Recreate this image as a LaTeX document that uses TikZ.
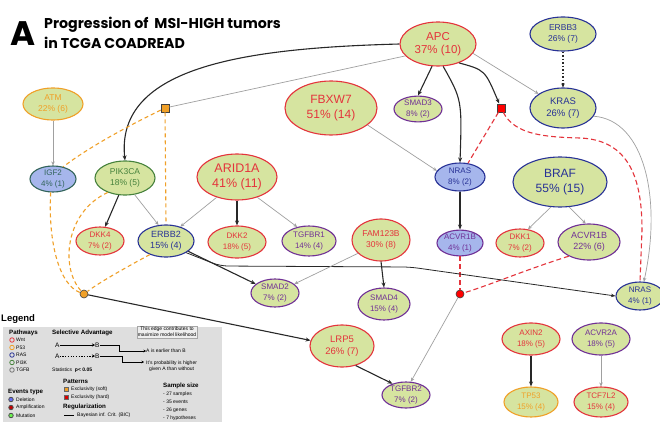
\documentclass[tikz,border=0pt]{standalone}
\usepackage{fontspec}
\setmainfont{Liberation Sans}
\newfontfamily\titlefont{Poppins}
\usetikzlibrary{shapes.geometric,arrows.meta}

\definecolor{gfill}{RGB}{214,228,160}
\definecolor{bfill}{RGB}{166,182,236}
\definecolor{cred}{RGB}{228,52,60}
\definecolor{cblue}{RGB}{40,50,150}
\definecolor{cpurp}{RGB}{112,48,150}
\definecolor{corange}{RGB}{240,160,40}
\definecolor{cgreen}{RGB}{70,130,60}
\definecolor{cteal}{RGB}{50,100,90}
\definecolor{egray}{RGB}{160,160,160}
\definecolor{eblack}{RGB}{40,40,40}
\definecolor{legbg}{RGB}{222,222,222}

\begin{document}
\begin{tikzpicture}[x=1pt,y=-1pt,
 gene/.style={ellipse, draw, line width=1.1pt, inner sep=0pt, align=center, font=\fontsize{8}{11}\selectfont},
 gf/.style={fill=gfill}, bf/.style={fill=bfill},
 rd/.style={draw=cred, text=cred}, bl/.style={draw=cblue, text=cblue},
 pu/.style={draw=cpurp, text=cpurp}, orn/.style={draw=corange, text=corange},
 gr/.style={draw=cgreen, text=cgreen},
 sz/.style 2 args={minimum width=#1pt, minimum height=#2pt},
 patsq/.style={rectangle, draw=black!75, line width=0.6pt, minimum size=8pt, inner sep=0pt},
 patci/.style={circle, draw=black!75, line width=0.6pt, minimum size=8pt, inner sep=0pt},
 ga/.style={draw=egray, line width=0.7pt, -{Stealth[length=4pt,width=3.5pt]}},
 gl/.style={draw=egray, line width=0.7pt},
 bk/.style={draw=eblack, line width=1.1pt, -{Stealth[length=5pt,width=4pt]}},
 bkthin/.style={draw=eblack, line width=0.8pt, -{Stealth[length=4.5pt,width=3.5pt]}},
 dotar/.style={draw=eblack, line width=1.2pt, dash pattern=on 1.5pt off 2pt, -{Stealth[length=4pt,width=3.5pt]}},
 rdash/.style={draw=cred, line width=1.1pt, dash pattern=on 5pt off 3pt},
 odash/.style={draw=corange, line width=1.1pt, dash pattern=on 4pt off 3pt},
 lt/.style={anchor=west, inner sep=0pt, font=\fontsize{5}{6}\selectfont},
 lb/.style={anchor=west, inner sep=0pt, font=\bfseries\fontsize{6.2}{7}\selectfont},
 legc/.style={circle, minimum size=4.5pt, inner sep=0pt, line width=0.8pt},
 legs/.style={rectangle, minimum size=4.5pt, inner sep=0pt, line width=0.5pt, draw=black!60}
]
\fill[white] (0,0) rectangle (660,422);
\useasboundingbox (0,0) rectangle (660,422);

% title
\node[anchor=west, inner sep=0pt, font=\titlefont\bfseries\fontsize{34}{34}\selectfont] (tA) at (10,34) {A};
\node[anchor=north west, inner sep=0pt, align=left, font=\titlefont\bfseries\fontsize{14.2}{19.5}\selectfont] (title) at (44,17) {Progression of \ MSI-HIGH tumors\\in TCGA COADREAD};

% genes
\node[gene,gf,rd,sz={76}{44},font=\fontsize{11.5}{13.5}\selectfont] (APC) at (438,44) {APC\\37\% (10)};
\node[gene,gf,bl,sz={66}{34},font=\fontsize{8.5}{11.5}\selectfont] (ERBB3) at (563,34) {ERBB3\\26\% (7)};
\node[gene,gf,pu,sz={48}{25}] (SMAD3) at (418,109) {SMAD3\\8\% (2)};
\node[gene,gf,bl,sz={66}{40},font=\fontsize{9.5}{12}\selectfont] (KRAS) at (563,108) {KRAS\\26\% (7)};
\node[gene,gf,rd,sz={92}{54},font=\fontsize{12}{15}\selectfont] (FBXW7) at (331,108) {FBXW7\\51\% (14)};
\node[gene,gf,orn,sz={60}{32},font=\fontsize{8.5}{11}\selectfont] (ATM) at (53,104) {ATM\\22\% (6)};
\node[gene,bf,draw=cteal,text=cteal,sz={46}{26}] (IGF2) at (53,179) {IGF2\\4\% (1)};
\node[gene,gf,gr,sz={60}{34},font=\fontsize{8.5}{11}\selectfont] (PIK3CA) at (125,178) {PIK3CA\\18\% (5)};
\node[gene,gf,rd,sz={80}{46},font=\fontsize{12.5}{15}\selectfont] (ARID1A) at (237,177) {ARID1A\\41\% (11)};
\node[gene,gf,rd,sz={48}{28}] (DKK4) at (100,241) {DKK4\\7\% (2)};
\node[gene,gf,bl,sz={56}{32},font=\fontsize{9}{11.5}\selectfont] (ERBB2) at (166,241) {ERBB2\\15\% (4)};
\node[gene,gf,rd,sz={58}{32}] (DKK2) at (237,242) {DKK2\\18\% (5)};
\node[gene,gf,pu,sz={54}{30}] (TGFBR1) at (309,241) {TGFBR1\\14\% (4)};
\node[gene,gf,rd,sz={58}{42},font=\fontsize{8.5}{11.5}\selectfont] (FAM) at (381,240) {FAM123B\\30\% (8)};
\node[gene,gf,pu,sz={48}{28}] (SMAD2) at (275,293) {SMAD2\\7\% (2)};
\node[gene,gf,pu,sz={52}{32}] (SMAD4) at (384,304) {SMAD4\\15\% (4)};
\node[gene,bf,bl,sz={50}{28}] (NRAS) at (460,177) {NRAS\\8\% (2)};
\node[gene,gf,bl,sz={94}{50},font=\fontsize{12}{15}\selectfont] (BRAF) at (560,182) {BRAF\\55\% (15)};
\node[gene,bf,pu,sz={46}{24}] (ACVs) at (460,243) {ACVR1B\\4\% (1)};
\node[gene,gf,rd,sz={48}{28}] (DKK1) at (520,243) {DKK1\\7\% (2)};
\node[gene,gf,pu,sz={62}{36},font=\fontsize{9}{11.5}\selectfont] (ACVb) at (589,242) {ACVR1B\\22\% (6)};
\node[gene,gf,bl,sz={48}{28}] (NRAS2) at (640,296) {NRAS\\4\% (1)};
\node[gene,gf,rd,sz={64}{42},font=\fontsize{9.5}{12}\selectfont] (LRP5) at (342,346) {LRP5\\26\% (7)};
\node[gene,gf,pu,sz={48}{26}] (TGFBR2) at (406,395) {TGFBR2\\7\% (2)};
\node[gene,gf,rd,sz={58}{32}] (AXIN2) at (531,339) {AXIN2\\18\% (5)};
\node[gene,gf,pu,sz={58}{32}] (ACVR2A) at (601,339) {ACVR2A\\18\% (5)};
\node[gene,gf,orn,sz={54}{30}] (TP53) at (531,402) {TP53\\15\% (4)};
\node[gene,gf,rd,sz={54}{30}] (TCF7L2) at (601,402) {TCF7L2\\15\% (4)};

% pattern nodes
\node[patsq,fill=corange] (psqO) at (165,108) {};
\node[patsq,fill=red] (psqR) at (501,108) {};
\node[patci,fill=corange] (pciO) at (84,294) {};
\node[patci,fill=red] (pciR) at (460,294) {};

% edges
\draw[bk] (APC.west) .. controls (250,48) and (115,65) .. (PIK3CA.north);
\draw[gl] (APC.200) -- (psqO);
\draw[bk] (APC.255) -- (SMAD3.north);
\draw[bk] (APC.283) .. controls (462,100) .. (NRAS.north);
\draw[bk] (APC.318) .. controls (485,70) .. (psqR);
\draw[ga] (APC.345) -- (KRAS.150);
\draw[dotar] (ERBB3.south) -- (KRAS.north);
\draw[ga] (KRAS.345) .. controls (645,120) and (662,200) .. (NRAS2.75);
\draw[rdash] (psqR) -- (NRAS.60);
\draw[rdash] (psqR) .. controls (515,135) and (545,137) .. (580,138) .. controls (630,140) and (642,180) .. (642,230) -- (NRAS2.north);
\draw[ga] (FBXW7.335) -- (NRAS.165);
\draw[bk] (NRAS.south) -- (ACVs.north);
\draw[ga] (BRAF.250) -- (DKK1.60);
\draw[ga] (BRAF.290) -- (ACVb.100);
\draw[rdash] (ACVs.south) -- (pciR);
\draw[rdash] (ACVb.215) .. controls (525,270) and (490,285) .. (pciR);
\draw[ga] (pciR) -- (TGFBR2.70);
\draw[bkthin, rounded corners=8pt] (ERBB2.330) -- (220,266) -- (410,267) -- (NRAS2.west);
\draw[bk] (ERBB2.335) -- (SMAD2.155);
\draw[ga] (FAM.210) -- (SMAD2.25);
\draw[bk] (FAM.south) -- (SMAD4.north);
\draw[ga] (ARID1A.225) -- (ERBB2.45);
\draw[bk] (ARID1A.south) -- (DKK2.north);
\draw[ga] (ARID1A.315) -- (TGFBR1.130);
\draw[bk] (PIK3CA.250) -- (DKK4.70);
\draw[ga] (PIK3CA.300) -- (ERBB2.115);
\draw[ga] (ATM.south) -- (IGF2.north);
\draw[odash] (psqO) .. controls (120,130) and (85,150) .. (IGF2.50);
\draw[odash] (psqO) -- (ERBB2.north);
\draw[odash] (IGF2.260) .. controls (48,245) and (60,285) .. (pciO);
\draw[odash] (PIK3CA.220) .. controls (65,212) and (60,268) .. (pciO);
\draw[odash] (ERBB2.220) .. controls (125,268) and (100,282) .. (pciO);
\draw[bk] (pciO) -- (LRP5.170);
\draw[bk] (LRP5.305) -- (TGFBR2.140);
\draw[bk] (AXIN2.south) -- (TP53.north);
\draw[ga] (ACVR2A.south) -- (TCF7L2.north);

% legend
\fill[legbg] (3,327) rectangle (222,422);
\node[anchor=west, inner sep=0pt, font=\bfseries\fontsize{9.5}{10}\selectfont] (legT) at (1,319) {Legend};
\node[lb] (lpw) at (9,333) {Pathways};
\node[legc,draw=cred] (c1) at (12,340) {}; \node[lt] at (16,340) {Wnt};
\node[legc,draw=corange] (c2) at (12,347.5) {}; \node[lt] at (16,347.5) {P53};
\node[legc,draw=cblue] (c3) at (12,355) {}; \node[lt] at (16,355) {RAS};
\node[legc,draw=cgreen] (c4) at (12,362.5) {}; \node[lt] at (16,362.5) {PI3K};
\node[legc,draw=black!55] (c5) at (12,370) {}; \node[lt] at (16,370) {TGFB};

\node[lb] (lsa) at (52,333) {Selective Advantage};
\node[lt,font=\fontsize{6.5}{7}\selectfont] (lA1) at (55,345) {A};
\node[lt,font=\fontsize{6.5}{7}\selectfont] (lB1) at (95,345) {B};
\node[lt,font=\fontsize{6.5}{7}\selectfont] (lA2) at (55,356) {A};
\node[lt,font=\fontsize{6.5}{7}\selectfont] (lB2) at (95,356) {B};
\draw[line width=0.6pt,-{Stealth[length=3pt,width=3pt]}] (lA1.east) -- (lB1.west);
\draw[line width=0.6pt,dash pattern=on 1.2pt off 1.5pt,-{Stealth[length=3pt,width=3pt]}] (lA2.east) -- (lB2.west);
\node[lt,align=center,draw=black!35,fill=legbg!50!white,inner sep=1pt,anchor=center] (lbox) at (167,332) {This edge contributes to\\maximize model likelihood};
\node[lt] (lE1) at (146,351) {A is earlier than B};
\node[lt,align=center] (lE2) at (146,366) {It's probability is higher\\given A than without};
\draw[line width=0.4pt,-{Stealth[length=2.5pt,width=2.5pt]}] (lB1.east) -- (119,345) |- (lE1.west);
\draw[line width=0.4pt,-{Stealth[length=2.5pt,width=2.5pt]}] (lB2.east) -- (122,356) |- (144,362);
\node[lt] (lst) at (52,370) {Statistics \ \textbf{p< 0.05}};

\node[lb] (lpa) at (63,381) {Patterns};
\node[legs,fill=corange] (s1) at (66,389) {}; \node[lt] at (71,389) {Exclusivity (soft)};
\node[legs,fill=red!85!black] (s2) at (66,397) {}; \node[lt] at (71,397) {Exclusivity (hard)};

\node[lb] (lev) at (8,392) {Events type};
\node[legc,draw=black!70,fill=bfill!60!blue] (e1) at (11,399.5) {}; \node[lt] at (16,399.5) {Deletion};
\node[legc,draw=black!70,fill=red!75!black] (e2) at (11,407.5) {}; \node[lt] at (16,407.5) {Amplification};
\node[legc,draw=black!70,fill=gfill!50!green] (e3) at (11,415.5) {}; \node[lt] at (16,415.5) {Mutation};

\node[lb] (lre) at (63,407) {Regularization};
\draw[line width=0.7pt] (64,415) -- (74,415);
\node[lt] (lbic) at (77,415) {Bayesian inf. Crit. (BIC)};

\node[lb] (lss) at (163,386) {Sample size};
\node[lt] at (163,394) {- 27 samples};
\node[lt] at (163,402) {- 35 events};
\node[lt] at (163,410) {- 26 genes};
\node[lt] at (163,418) {- 7 hypotheses};
\end{tikzpicture}
\end{document}
